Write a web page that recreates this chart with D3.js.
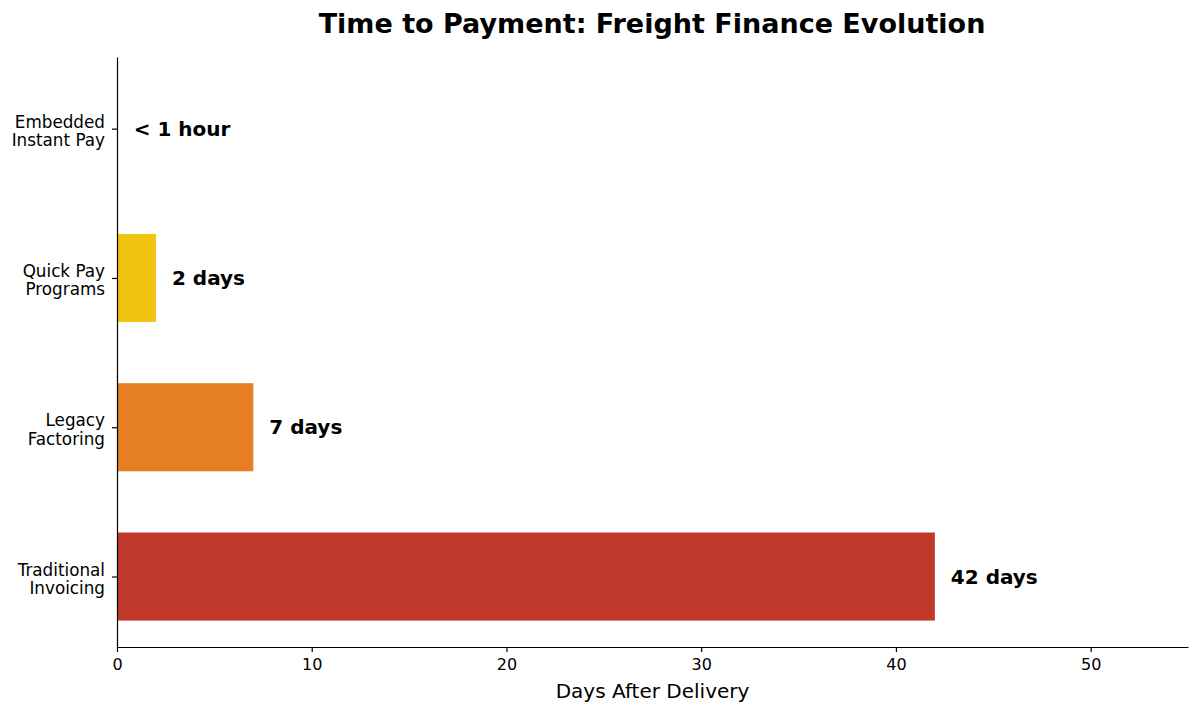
<!DOCTYPE html>
<html>
<head>
<meta charset="utf-8">
<script src="https://cdn.jsdelivr.net/npm/d3@7"></script>
<style>
  body { margin: 0; background: #fff; }
  text { font-family: "DejaVu Sans", sans-serif; }
</style>
</head>
<body>
<div id="w"></div>
<script>
// data, bottom to top as in the picture
var categories = [["Traditional", "Invoicing"], ["Legacy", "Factoring"], ["Quick Pay", "Programs"], ["Embedded", "Instant Pay"]]
var days = [42, 7, 2, 0.04]
var valueLabels = ["42 days", "7 days", "2 days", "< 1 hour"]
var colors = ["#c0392b", "#e67e22", "#f1c40f", "#27ae60"]
var xTicks = [0, 10, 20, 30, 40, 50]

var W = 1200, H = 714
var m = {left: 117, right: 12, top: 57, bottom: 67}

var svg = d3.select("#w").append("svg")
  .attr("width", W)
  .attr("height", H)

var x = d3.scaleLinear().domain([0, 55]).range([m.left, W - m.right])
// categorical positions 0..3
var y = d3.scaleLinear().domain([-0.472, 3.48]).range([H - m.bottom, m.top])
var barH = y(0) - y(0.59)

svg.append("text")
  .attr("x", 652).attr("y", 33)
  .attr("text-anchor", "middle")
  .attr("font-size", 27).attr("font-weight", "bold")
  .text("Time to Payment: Freight Finance Evolution")

svg.selectAll("rect.bar")
  .data(days)
  .enter().append("rect")
  .attr("class", "bar")
  .attr("x", x(0))
  .attr("y", (d, i) => y(i) - barH / 2)
  .attr("width", d => x(d) - x(0))
  .attr("height", barH)
  .attr("fill", (d, i) => colors[i])

svg.selectAll("text.val")
  .data(days)
  .enter().append("text")
  .attr("class", "val")
  .attr("x", d => x(d) + 16)
  .attr("y", (d, i) => y(i))
  .attr("dy", "0.35em")
  .attr("font-size", 20).attr("font-weight", "bold")
  .text((d, i) => valueLabels[i])

// x axis
var xa = svg.append("g")
  .attr("transform", "translate(0," + (H - m.bottom) + ")")
  .call(d3.axisBottom(x).tickValues(xTicks).tickSize(5).tickPadding(7).tickSizeOuter(0))
xa.selectAll("text").attr("font-size", 16).attr("font-family", "DejaVu Sans").attr("fill", "#000")
xa.selectAll("line, path").attr("stroke", "#000").attr("stroke-width", 1.2)

svg.append("text")
  .attr("x", x(27.5)).attr("y", 698)
  .attr("text-anchor", "middle")
  .attr("font-size", 20)
  .text("Days After Delivery")

// y axis
var ya = svg.append("g")
  .attr("transform", "translate(" + m.left + ",0)")
  .call(d3.axisLeft(y).tickValues([0, 1, 2, 3]).tickFormat("").tickSize(5).tickSizeOuter(0))
ya.selectAll("line, path").attr("stroke", "#000").attr("stroke-width", 1.2)

var labs = svg.selectAll("text.cat")
  .data(categories)
  .enter().append("text")
  .attr("class", "cat")
  .attr("text-anchor", "end")
  .attr("font-size", 16.8)
labs.each(function(d, i) {
  var t = d3.select(this)
  d.forEach(function(line, k) {
    t.append("tspan")
      .attr("x", m.left - 12)
      .attr("y", y(i) - 1 + k * 18.5)
      .text(line)
  })
})
</script>
</body>
</html>
